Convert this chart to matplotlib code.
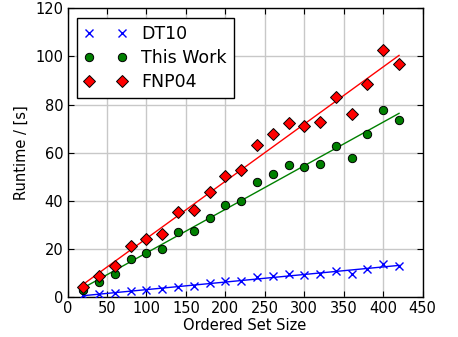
import numpy as np
import matplotlib
matplotlib.use("Agg")
import matplotlib.pyplot as plt

x = [20, 40, 60, 80, 100, 120, 140, 160, 180, 200, 220, 240, 260, 280, 300, 320, 340, 360, 380, 400, 420]
dt10 = [0.8, 1.2, 1.8, 2.6, 2.9, 3.5, 4.3, 4.8, 6.0, 6.6, 6.9, 8.3, 8.9, 9.6, 9.3, 9.6, 10.9, 9.8, 11.8, 13.7, 12.9]
this_work = [2.9, 6.4, 9.7, 15.9, 18.3, 20.2, 27.0, 27.7, 33.1, 38.2, 40.1, 47.9, 51.2, 55.1, 53.9, 55.5, 63.0, 58.0, 67.6, 77.7, 73.8]
fnp04 = [4.3, 8.7, 13.0, 21.3, 24.4, 26.4, 35.4, 36.4, 43.7, 50.5, 52.7, 63.1, 67.6, 72.4, 71.0, 72.8, 83.2, 76.3, 88.7, 102.6, 97.0]

labels = ["DT10", "This Work", "FNP04"]
xticks = [0, 50, 100, 150, 200, 250, 300, 350, 400, 450]
yticks = [0, 20, 40, 60, 80, 100, 120]

fig = plt.figure(figsize=(4.58, 3.37), dpi=100)
ax = fig.add_axes([67.5/458, (337-297.3)/337, (422.7-67.5)/458, (297.3-8.3)/337])

xa = np.array(x, dtype=float)
series = [
    (dt10, "x", "blue", "blue"),
    (this_work, "o", "green", "green"),
    (fnp04, "D", "red", "red"),
]
for (ys, mk, lc, fc), lab in zip(series, labels):
    ya = np.array(ys, dtype=float)
    if mk == "x":
        ax.plot(xa, ya, linestyle="none", marker="x", markersize=6, markeredgecolor="blue",
                markeredgewidth=1.0, label=lab, zorder=3)
    else:
        ax.plot(xa, ya, linestyle="none", marker=mk, markersize=6, markerfacecolor=fc,
                markeredgecolor="black", markeredgewidth=0.7, label=lab, zorder=3)
    p = np.polyfit(xa, ya, 1)
    ax.plot(xa, np.polyval(p, xa), color=lc, linewidth=1.0, zorder=2)

ax.set_xlim(0, 450)
ax.set_ylim(0, 120)
ax.set_xticks(xticks)
ax.set_yticks(yticks)
ax.tick_params(direction="in", top=True, right=True, labelsize=10.5, length=4, width=0.8, pad=3)
ax.grid(True, color="#c8c8c8", linewidth=1.0, linestyle="-")
ax.set_axisbelow(True)
for s in ax.spines.values():
    s.set_linewidth(1.0)
ax.set_xlabel("Ordered Set Size", fontsize=10.5, labelpad=1)
ax.set_ylabel("Runtime / [s]", fontsize=10.5, labelpad=5)

leg = ax.legend(loc="upper left", numpoints=2, fontsize=12.5, fancybox=False, framealpha=1,
                edgecolor="black", borderaxespad=0.55, handlelength=2.5, handletextpad=0.8,
                labelspacing=0.35, borderpad=0.4)
leg.get_frame().set_linewidth(1.0)

fig.savefig("out.png", dpi=100)
